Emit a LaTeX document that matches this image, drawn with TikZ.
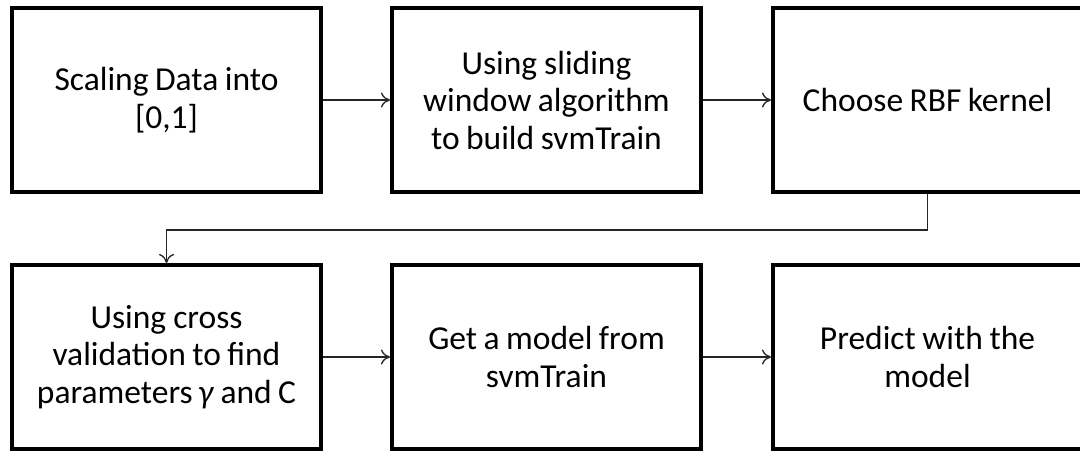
\documentclass[tikz,border=0pt]{standalone}
\usepackage{fontspec}
\setmainfont{Carlito}
\usetikzlibrary{arrows.meta,shadows,calc}
\newcommand\tightspace{\spaceskip=6pt plus 1pt minus 1pt\relax}
\begin{document}
\begin{tikzpicture}[x=1pt,y=1pt,
  stepbox/.style={draw=black,line width=4pt,fill=white,minimum width=309pt,minimum height=184pt,
    inner sep=0pt,text width=300pt,align=center,
    font=\fontsize{33.5}{37.5}\selectfont,
    drop shadow={opacity=0.25,shadow xshift=1.5pt,shadow yshift=-1.5pt}},
  conn/.style={draw=black!85,line width=1.3pt,-{To[length=9pt,width=15pt]}}]
\useasboundingbox (0,0) rectangle (1080,453);
\clip (0,0) rectangle (1080,453);
\fill[white] (0,0) rectangle (1080,453);
\node[stepbox] (b1) at (166.5,353) {\tightspace Scaling Data into\\{}[0,1]};
\node[stepbox] (b2) at (546.5,353) {\tightspace Using sliding\\window algorithm\\to build svmTrain};
\node[stepbox] (b3) at (927.5,353) {\tightspace Choose RBF kernel};
\node[stepbox] (b4) at (166.5,96) {\tightspace Using cross\\validation to find\\parameters\,\textit{γ} and C};
\node[stepbox] (b5) at (546.5,96) {\tightspace Get a model from\\svmTrain};
\node[stepbox] (b6) at (927.5,96) {\tightspace Predict with the\\model};
\draw[conn] (b1) -- (b2);
\draw[conn] (b2) -- (b3);
\coordinate (turn) at ($(b3.south)+(0,-36)$);
\draw[conn] (b3.south) -- (turn) -| (b4.north);
\draw[conn] (b4) -- (b5);
\draw[conn] (b5) -- (b6);
\end{tikzpicture}
\end{document}
